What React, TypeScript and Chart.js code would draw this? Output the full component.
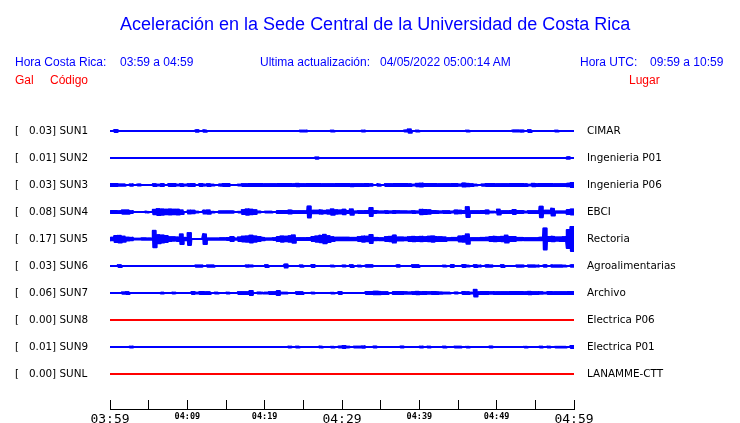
import React, { useEffect, useRef } from 'react';
import { Chart, registerables } from 'chart.js';

Chart.register(...registerables);

// ---------- data ----------
const STATION_CODES = ['SUN1', 'SUN2', 'SUN3', 'SUN4', 'SUN5', 'SUN6', 'SUN7', 'SUN8', 'SUN9', 'SUNL'];
const STATION_PLACES = ['CIMAR', 'Ingenieria P01', 'Ingenieria P06', 'EBCI', 'Rectoria', 'Agroalimentarias', 'Archivo', 'Electrica P06', 'Electrica P01', 'LANAMME-CTT'];
const PEAK_GAL = [0.03, 0.01, 0.03, 0.08, 0.17, 0.03, 0.06, 0.0, 0.01, 0.0];
const STATION_ACTIVE = [true, true, true, true, true, true, true, false, true, false];
const TIME_LABELS = ['03:59', '04:09', '04:19', '04:29', '04:39', '04:49', '04:59'];
const MINUTES_SPAN = 60;
const BIN_MINUTES = 0.5; // each amplitude value covers 30 s

// envelope amplitude per 30 s bin, in mGal (120 bins = 60 min)
const SUN1_mGal = [
  0, 12, 0, 0, 0, 0, 0, 0, 0, 0, 0, 0, 0, 0, 0, 0, 0, 0, 0, 0,
  0, 0, 10, 0, 10, 0, 0, 0, 0, 0, 0, 0, 0, 0, 0, 0, 0, 0, 0, 0,
  0, 0, 0, 0, 0, 0, 0, 0, 0, 7, 7, 0, 0, 0, 0, 0, 0, 8, 0, 0,
  0, 0, 0, 0, 0, 7, 0, 0, 0, 0, 0, 0, 0, 0, 0, 0, 7, 22, 0, 7,
  0, 0, 0, 0, 0, 0, 0, 0, 0, 0, 0, 0, 7, 0, 0, 0, 0, 0, 0, 0,
  0, 0, 0, 0, 7, 7, 8, 0, 14, 0, 0, 0, 0, 0, 0, 7, 0, 0, 0, 0,
];
const SUN2_mGal = [
  0, 0, 0, 0, 0, 0, 0, 0, 0, 0, 0, 0, 0, 0, 0, 0, 0, 0, 0, 0,
  0, 0, 0, 0, 0, 0, 0, 0, 0, 0, 0, 0, 0, 0, 0, 0, 0, 0, 0, 0,
  0, 0, 0, 0, 0, 0, 0, 0, 0, 0, 0, 0, 0, 8, 0, 0, 0, 0, 0, 0,
  0, 0, 0, 0, 0, 0, 0, 0, 0, 0, 0, 0, 0, 0, 0, 0, 0, 0, 0, 0,
  0, 0, 0, 0, 0, 0, 0, 0, 0, 0, 0, 0, 0, 0, 0, 0, 0, 0, 0, 0,
  0, 0, 0, 0, 0, 0, 0, 0, 0, 0, 0, 0, 0, 0, 0, 0, 0, 0, 10, 0,
];
const SUN3_mGal = [
  14, 14, 11, 11, 0, 11, 0, 7, 0, 0, 0, 14, 8, 14, 0, 14, 14, 8, 14, 8,
  14, 14, 0, 14, 8, 14, 8, 0, 8, 14, 14, 0, 0, 8, 14, 14, 14, 14, 14, 14,
  14, 14, 14, 14, 14, 14, 14, 14, 16, 14, 14, 14, 14, 14, 14, 14, 14, 14, 14, 14,
  14, 14, 15, 14, 14, 14, 14, 11, 0, 11, 0, 14, 14, 14, 14, 14, 14, 14, 8, 16,
  20, 14, 14, 14, 14, 14, 14, 14, 14, 14, 8, 20, 16, 14, 8, 0, 8, 14, 14, 14,
  14, 14, 14, 14, 14, 14, 14, 14, 8, 18, 14, 14, 14, 14, 14, 14, 14, 14, 16, 28,
];
const SUN4_mGal = [
  12, 12, 12, 22, 22, 12, 0, 0, 0, 5, 0, 30, 40, 35, 30, 32, 30, 32, 25, 0,
  20, 18, 5, 0, 20, 22, 5, 0, 9, 9, 9, 9, 0, 5, 28, 36, 30, 25, 6, 0,
  6, 6, 0, 12, 12, 14, 20, 14, 12, 12, 14, 72, 18, 16, 22, 18, 22, 36, 24, 20,
  30, 12, 36, 10, 12, 14, 12, 52, 12, 10, 10, 12, 10, 12, 10, 9, 9, 9, 12, 9,
  30, 28, 22, 12, 12, 10, 12, 12, 6, 20, 18, 14, 66, 12, 12, 12, 14, 20, 5, 5,
  32, 12, 12, 14, 26, 12, 12, 6, 12, 12, 12, 70, 18, 18, 45, 9, 9, 9, 28, 32,
];
const SUN5_mGal = [
  18, 40, 45, 35, 20, 18, 5, 5, 9, 9, 9, 110, 55, 48, 40, 25, 22, 25, 65, 18,
  80, 0, 0, 0, 65, 10, 10, 10, 10, 10, 12, 28, 10, 25, 32, 38, 45, 35, 28, 18,
  10, 10, 12, 28, 35, 30, 38, 50, 14, 12, 14, 12, 28, 35, 42, 58, 40, 28, 16, 18,
  16, 18, 16, 18, 28, 35, 30, 52, 15, 15, 15, 28, 30, 48, 20, 20, 18, 28, 30, 26,
  30, 25, 30, 35, 28, 28, 25, 15, 15, 15, 32, 38, 62, 15, 15, 15, 15, 18, 28, 30,
  28, 30, 48, 28, 28, 15, 15, 15, 15, 15, 15, 16, 140, 28, 30, 22, 25, 28, 120, 160,
];
const SUN6_mGal = [
  0, 0, 12, 0, 0, 0, 0, 0, 0, 0, 0, 0, 0, 0, 0, 0, 0, 0, 0, 0,
  0, 0, 8, 8, 0, 10, 10, 0, 0, 0, 0, 0, 0, 0, 0, 9, 6, 0, 0, 0,
  14, 0, 0, 0, 0, 20, 0, 0, 0, 9, 0, 0, 12, 0, 0, 0, 0, 8, 0, 0,
  6, 0, 12, 0, 6, 0, 10, 10, 0, 0, 0, 0, 0, 0, 10, 0, 0, 0, 12, 12,
  0, 0, 0, 0, 0, 0, 8, 0, 12, 0, 0, 12, 6, 0, 12, 8, 0, 10, 8, 0,
  0, 12, 0, 0, 0, 8, 8, 0, 10, 10, 8, 0, 10, 0, 10, 10, 10, 8, 0, 10,
];
const SUN7_mGal = [
  0, 0, 0, 10, 12, 0, 0, 0, 0, 0, 0, 0, 0, 5, 0, 0, 5, 0, 0, 0,
  0, 12, 5, 12, 12, 12, 0, 6, 0, 0, 5, 0, 0, 14, 14, 14, 28, 0, 6, 5,
  8, 12, 14, 26, 5, 5, 0, 0, 12, 12, 0, 0, 5, 0, 0, 0, 0, 5, 0, 14,
  0, 0, 0, 0, 0, 0, 12, 12, 18, 18, 12, 12, 0, 12, 12, 12, 10, 10, 12, 16,
  12, 12, 10, 12, 12, 10, 8, 8, 0, 6, 0, 12, 12, 6, 45, 12, 12, 12, 10, 12,
  12, 12, 12, 12, 12, 12, 12, 12, 18, 12, 12, 10, 5, 12, 12, 12, 12, 12, 12, 12,
];
const SUN8_mGal = [
  0, 0, 0, 0, 0, 0, 0, 0, 0, 0, 0, 0, 0, 0, 0, 0, 0, 0, 0, 0,
  0, 0, 0, 0, 0, 0, 0, 0, 0, 0, 0, 0, 0, 0, 0, 0, 0, 0, 0, 0,
  0, 0, 0, 0, 0, 0, 0, 0, 0, 0, 0, 0, 0, 0, 0, 0, 0, 0, 0, 0,
  0, 0, 0, 0, 0, 0, 0, 0, 0, 0, 0, 0, 0, 0, 0, 0, 0, 0, 0, 0,
  0, 0, 0, 0, 0, 0, 0, 0, 0, 0, 0, 0, 0, 0, 0, 0, 0, 0, 0, 0,
  0, 0, 0, 0, 0, 0, 0, 0, 0, 0, 0, 0, 0, 0, 0, 0, 0, 0, 0, 0,
];
const SUN9_mGal = [
  0, 0, 0, 0, 0, 6, 0, 0, 0, 0, 0, 0, 0, 0, 0, 0, 0, 0, 0, 0,
  0, 0, 0, 0, 0, 0, 0, 0, 0, 0, 0, 0, 0, 0, 0, 0, 0, 0, 0, 0,
  0, 0, 0, 0, 0, 0, 5, 0, 8, 0, 0, 0, 0, 0, 6, 0, 0, 5, 0, 6,
  12, 5, 0, 8, 6, 10, 0, 0, 6, 0, 0, 0, 0, 0, 0, 6, 0, 0, 0, 0,
  6, 0, 5, 0, 0, 0, 6, 0, 0, 5, 5, 0, 5, 0, 0, 0, 0, 0, 6, 0,
  0, 0, 0, 0, 0, 0, 0, 5, 0, 0, 0, 5, 0, 5, 0, 5, 5, 5, 0, 12,
];
const SUNL_mGal = [
  0, 0, 0, 0, 0, 0, 0, 0, 0, 0, 0, 0, 0, 0, 0, 0, 0, 0, 0, 0,
  0, 0, 0, 0, 0, 0, 0, 0, 0, 0, 0, 0, 0, 0, 0, 0, 0, 0, 0, 0,
  0, 0, 0, 0, 0, 0, 0, 0, 0, 0, 0, 0, 0, 0, 0, 0, 0, 0, 0, 0,
  0, 0, 0, 0, 0, 0, 0, 0, 0, 0, 0, 0, 0, 0, 0, 0, 0, 0, 0, 0,
  0, 0, 0, 0, 0, 0, 0, 0, 0, 0, 0, 0, 0, 0, 0, 0, 0, 0, 0, 0,
  0, 0, 0, 0, 0, 0, 0, 0, 0, 0, 0, 0, 0, 0, 0, 0, 0, 0, 0, 0,
];
const AMPLITUDES = [SUN1_mGal, SUN2_mGal, SUN3_mGal, SUN4_mGal, SUN5_mGal, SUN6_mGal, SUN7_mGal, SUN8_mGal, SUN9_mGal, SUNL_mGal];

// ---------- styling ----------
const BLUE = '#0000ff';
const RED = '#ff0000';
const LANE_PX = 27;
const PX_PER_GAL = 75;
const GAIN = PX_PER_GAL / LANE_PX; // lanes per Gal
const STROKES_PER_BIN = 8;

function traceData(i: number) {
  const amps = AMPLITUDES[i];
  const pts: { x: number; y: number }[] = [{ x: 0, y: i }];
  amps.forEach((a, b) => {
    const off = (a / 1000) * GAIN;
    for (let k = 0; k < STROKES_PER_BIN; k++) {
      pts.push({
        x: b * BIN_MINUTES + ((k + 0.5) * BIN_MINUTES) / STROKES_PER_BIN,
        y: i + (k % 2 === 0 ? -off : off),
      });
    }
  });
  pts.push({ x: MINUTES_SPAN, y: i });
  return pts;
}

function leftLabel(i: number) {
  return `[   ${PEAK_GAL[i].toFixed(2)}] ${STATION_CODES[i]}`;
}

const axisLinePlugin = {
  id: 'axisLine',
  afterDraw(chart: any) {
    const s = chart.scales.x;
    const ctx = chart.ctx;
    ctx.save();
    ctx.strokeStyle = '#000';
    ctx.lineWidth = 1;
    const y = Math.round(s.top + 9) + 0.5;
    ctx.beginPath();
    ctx.moveTo(Math.round(s.left), y);
    ctx.lineTo(Math.round(s.right) + 1, y);
    ctx.stroke();
    ctx.restore();
  },
};

const TOP_PX = 104;
const BOTTOM_PX = 400;
const Y_MIN = -1;
const Y_MAX = Y_MIN + (BOTTOM_PX - TOP_PX) / LANE_PX;

export default function App() {
  const ref = useRef<HTMLCanvasElement | null>(null);

  useEffect(() => {
    if (!ref.current) return;
    const laneTicks = (s: any) => {
      s.ticks = STATION_CODES.map((_, i) => ({ value: i }));
    };
    const chart = new Chart(ref.current, {
      type: 'line',
      data: {
        datasets: STATION_CODES.map((code, i) => ({
          label: code,
          data: traceData(i),
          borderColor: STATION_ACTIVE[i] ? BLUE : RED,
          backgroundColor: STATION_ACTIVE[i] ? BLUE : RED,
          borderWidth: 2,
          pointRadius: 0,
          tension: 0,
          borderJoinStyle: 'round',
          fill: false,
          xAxisID: 'x',
          yAxisID: 'y',
        })),
      },
      options: {
        responsive: false,
        animation: false,
        events: [],
        layout: { padding: { left: 15, top: TOP_PX, right: 0, bottom: 0 } },
        plugins: { legend: { display: false }, tooltip: { enabled: false }, title: { display: false } },
        scales: {
          x: {
            type: 'linear',
            position: 'bottom',
            min: 0,
            max: MINUTES_SPAN,
            afterFit: (s: any) => {
              s.height = 423 - BOTTOM_PX;
            },
            ticks: {
              stepSize: 5,
              autoSkip: false,
              maxRotation: 0,
              minRotation: 0,
              padding: 2.5,
              color: '#000',
              callback: (v: any) => (Number(v) % 10 === 0 ? TIME_LABELS[Number(v) / 10] : ''),
              font: (ctx: any) =>
                ctx.tick && ctx.tick.value % 30 === 0
                  ? { family: 'DejaVu Sans Mono', size: 13 }
                  : { family: 'DejaVu Sans Mono', size: 8.5, weight: 'bold' },
            },
            grid: { display: true, drawOnChartArea: false, drawTicks: true, tickLength: 9, color: '#000', lineWidth: 1 },
            border: { display: false },
          },
          y: {
            type: 'linear',
            position: 'left',
            reverse: true,
            min: Y_MIN,
            max: Y_MAX,
            afterFit: (s: any) => {
              s.width = 95;
            },
            afterBuildTicks: laneTicks,
            ticks: {
              crossAlign: 'far',
              padding: 0,
              color: '#000',
              font: { family: 'DejaVu Sans', size: 10.4 },
              callback: (v: any) => leftLabel(Number(v)),
            },
            grid: { display: false, drawTicks: false },
            border: { display: false },
          },
          yRight: {
            type: 'linear',
            position: 'right',
            reverse: true,
            min: Y_MIN,
            max: Y_MAX,
            afterFit: (s: any) => {
              s.width = 166;
            },
            afterBuildTicks: laneTicks,
            ticks: {
              padding: 13,
              color: '#000',
              font: { family: 'DejaVu Sans', size: 10.4 },
              callback: (v: any) => STATION_PLACES[Number(v)],
            },
            grid: { display: false, drawTicks: false },
            border: { display: false },
          },
        },
      } as any,
      plugins: [axisLinePlugin],
    });
    return () => chart.destroy();
  }, []);

  const txt = (left: number, top: number, size: number, color: string, text: string) => (
    <span
      style={{
        position: 'absolute',
        left,
        top,
        fontFamily: '"Liberation Sans", Arial, sans-serif',
        fontSize: size,
        lineHeight: `${size}px`,
        color,
        whiteSpace: 'pre',
      }}
    >
      {text}
    </span>
  );

  return (
    <div style={{ position: 'fixed', left: 0, top: 0, width: 740, height: 423, background: '#fff', overflow: 'hidden' }}>
      <canvas ref={ref} width={740} height={423} style={{ position: 'absolute', left: 0, top: 0, width: 740, height: 423 }} />
      {txt(120, 14.8, 18, BLUE, 'Aceleración en la Sede Central de la Universidad de Costa Rica')}
      {txt(15, 55.8, 12, BLUE, 'Hora Costa Rica:')}
      {txt(120, 55.8, 12, BLUE, '03:59 a 04:59')}
      {txt(260, 55.8, 12, BLUE, 'Ultima actualización:')}
      {txt(380, 55.8, 12, BLUE, '04/05/2022 05:00:14 AM')}
      {txt(580, 55.8, 12, BLUE, 'Hora UTC:')}
      {txt(650, 55.8, 12, BLUE, '09:59 a 10:59')}
      {txt(15, 74.3, 12, RED, 'Gal')}
      {txt(50, 74.3, 12, RED, 'Código')}
      {txt(629, 74.3, 12, RED, 'Lugar')}
    </div>
  );
}
